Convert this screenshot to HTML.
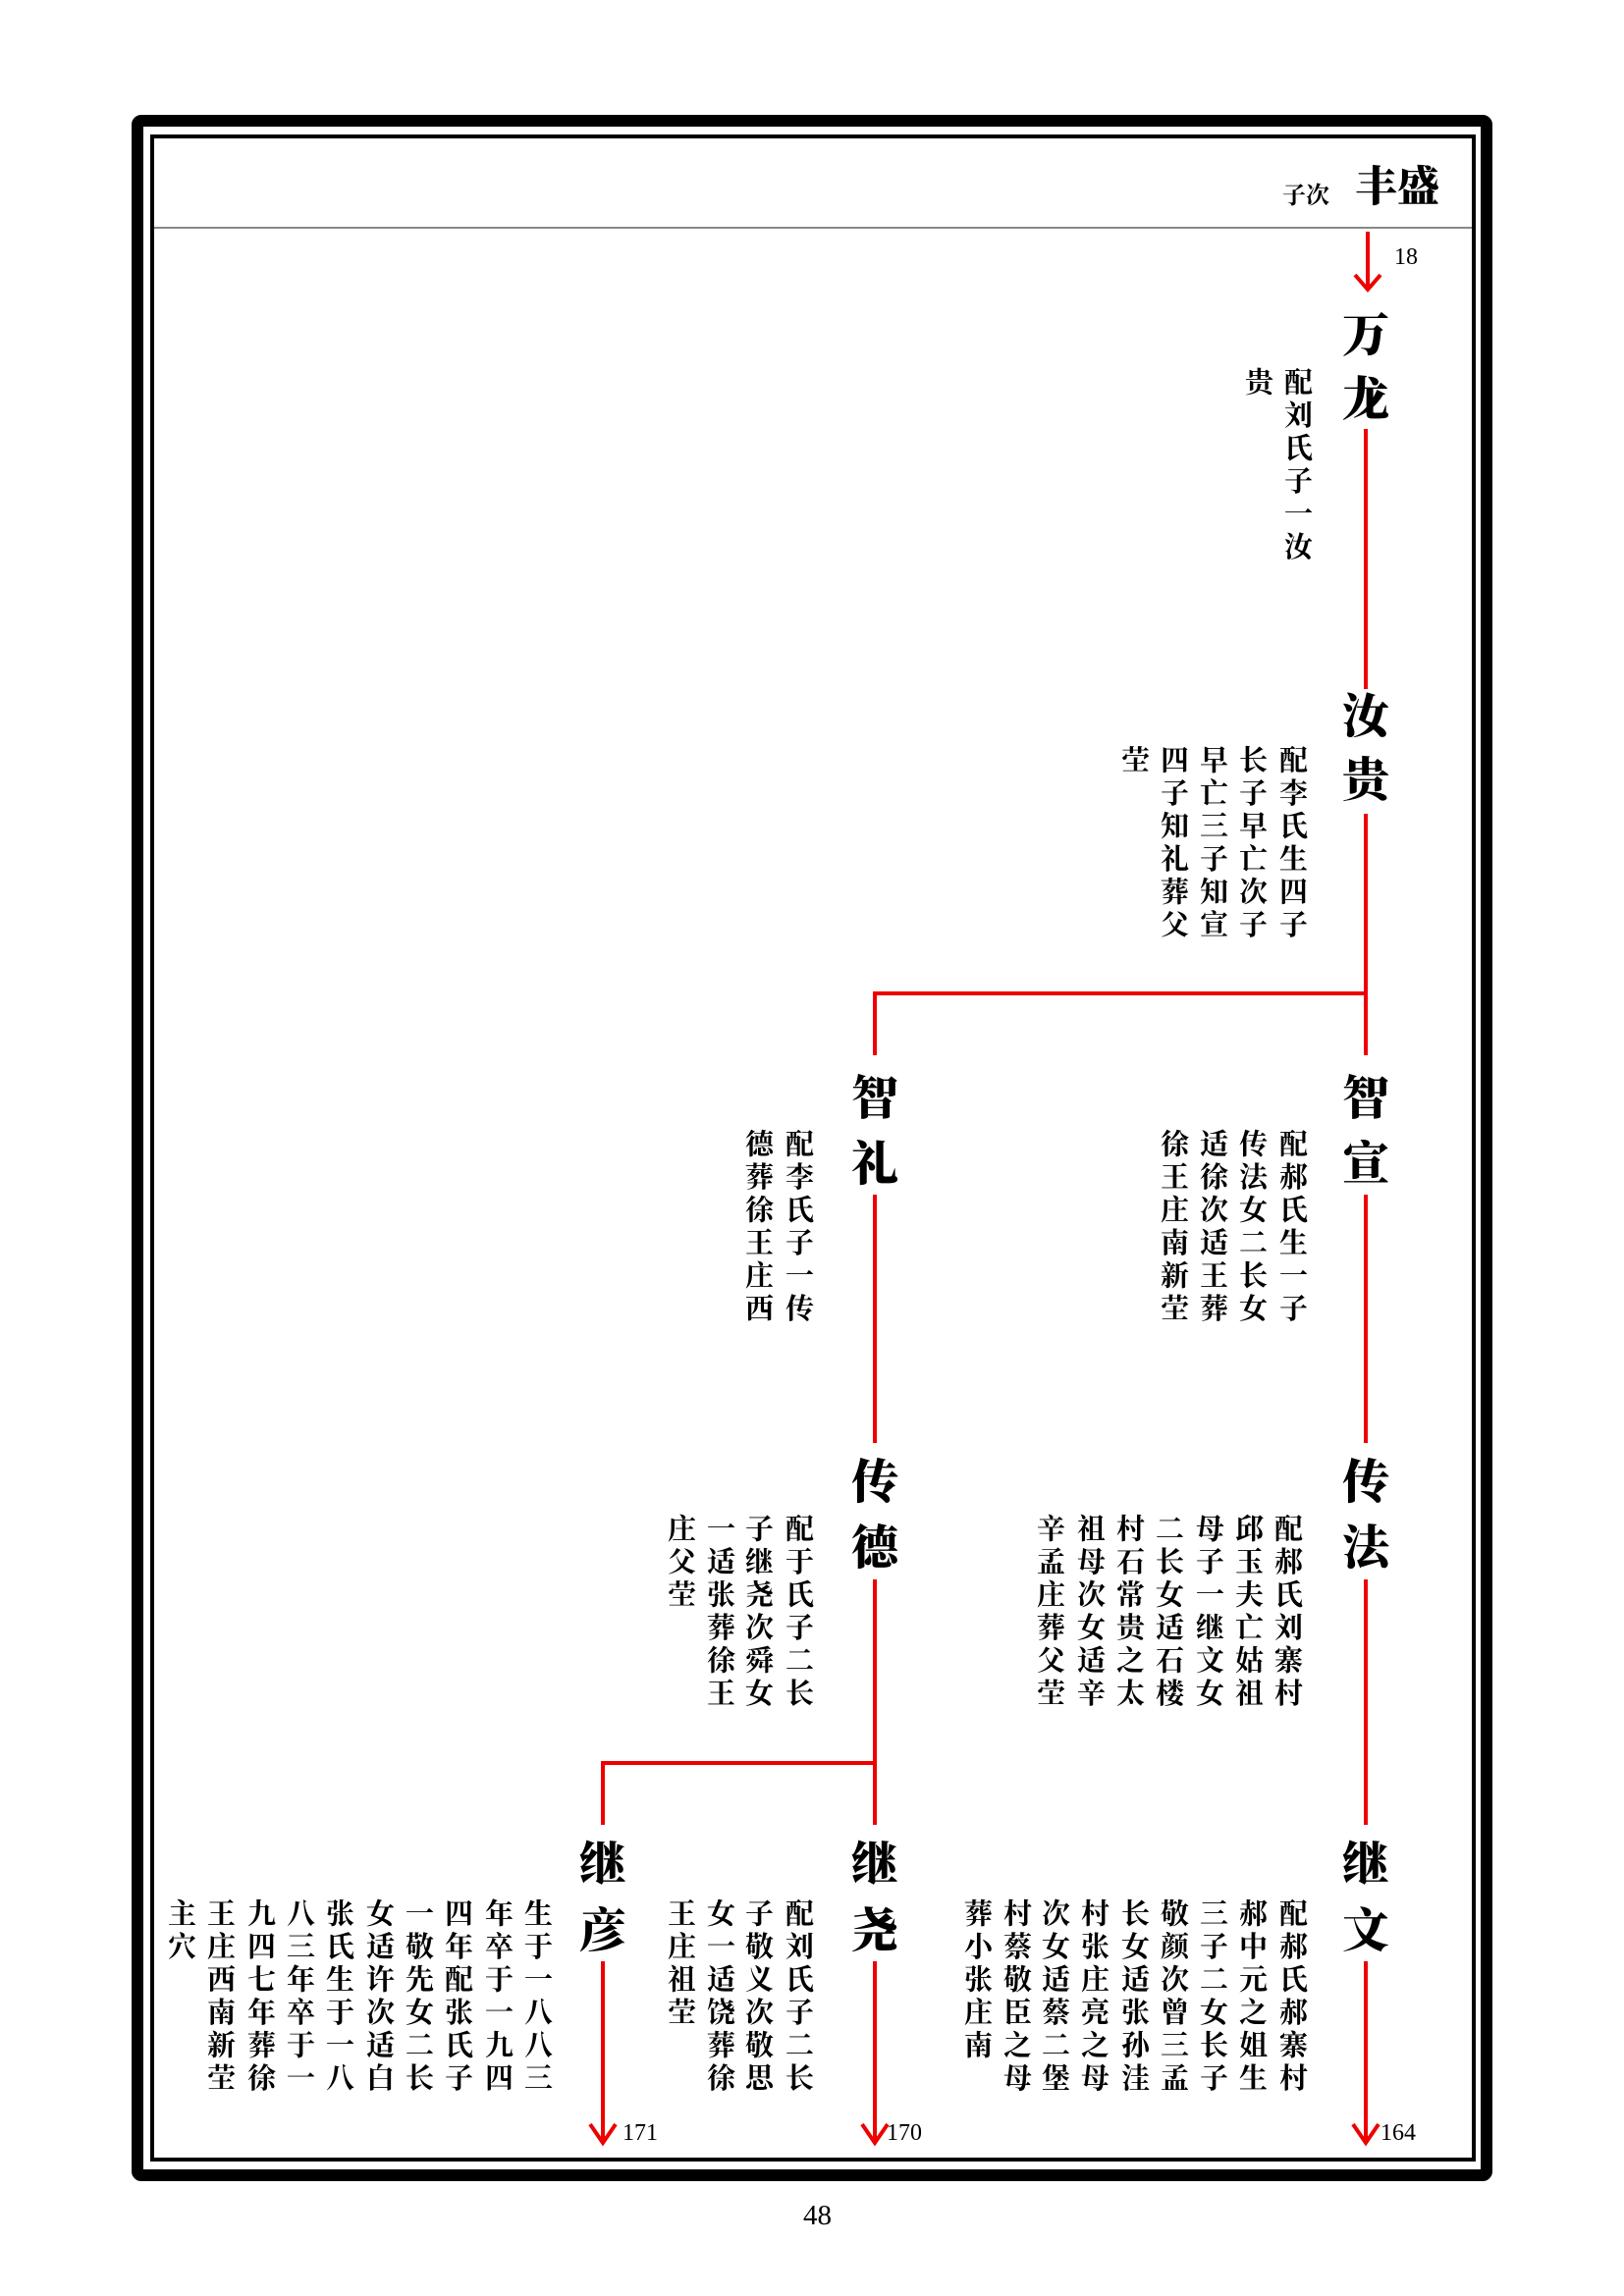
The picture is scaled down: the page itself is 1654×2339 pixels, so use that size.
<!DOCTYPE html>
<html><head><meta charset="utf-8"><style>
html,body{margin:0;padding:0;background:#fff}
#p{position:relative;width:1654px;height:2339px;overflow:hidden;background:#fff}
.c{position:absolute;writing-mode:vertical-rl;font-family:"Liberation Serif","Noto Serif CJK SC",serif;font-weight:700;font-size:29px;line-height:29px;width:29px;letter-spacing:4.5px;color:#000;white-space:nowrap}
.n{position:absolute;font-family:"Liberation Serif","Noto Serif CJK SC",serif;font-weight:900;font-size:48px;line-height:48px;width:48px;text-align:center;color:#000}
.num{position:absolute;font-family:"Liberation Serif",serif;font-size:24px;color:#000}
</style></head><body><div id="p">
<svg width="1654" height="2339" style="position:absolute;left:0;top:0">
<rect x="140" y="123" width="1374" height="2093" fill="none" stroke="#000" stroke-width="12" rx="4"/>
<rect x="155" y="139" width="1346" height="2061" fill="none" stroke="#000" stroke-width="4"/>
<line x1="157" y1="232" x2="1499" y2="232" stroke="#888" stroke-width="2"/>
<g stroke="#e00" stroke-width="4" fill="none">
<line x1="1393" y1="236" x2="1393" y2="294"/>
<polyline points="1380,280 1393,295 1406,280"/>
<line x1="1391" y1="437" x2="1391" y2="702"/>
<line x1="1391" y1="829" x2="1391" y2="1075"/>
<line x1="891" y1="1012" x2="1393" y2="1012"/>
<line x1="891" y1="1010" x2="891" y2="1075"/>
<line x1="1391" y1="1217" x2="1391" y2="1470"/>
<line x1="891" y1="1217" x2="891" y2="1470"/>
<line x1="1391" y1="1609" x2="1391" y2="1859"/>
<line x1="891" y1="1609" x2="891" y2="1859"/>
<line x1="614" y1="1796" x2="893" y2="1796"/>
<line x1="614" y1="1794" x2="614" y2="1859"/>
<line x1="1391" y1="1998" x2="1391" y2="2182"/>
<polyline points="1378,2164 1391,2183 1404,2164"/>
<line x1="891" y1="1998" x2="891" y2="2182"/>
<polyline points="878,2164 891,2183 904,2164"/>
<line x1="614" y1="1998" x2="614" y2="2182"/>
<polyline points="601,2164 614,2183 627,2164"/>
</g>
</svg>
<div style="position:absolute;left:1380px;top:168px;font-family:'Liberation Serif','Noto Serif CJK SC',serif;font-weight:900;font-size:43px;line-height:48px">丰盛</div>
<div style="position:absolute;left:1306px;top:186px;font-family:'Liberation Serif','Noto Serif CJK SC',serif;font-weight:700;font-size:24px;line-height:28px">子次</div>
<div class="num" style="left:1420px;top:249px">18</div>
<div class="num" style="left:1406px;top:2160px">164</div>
<div class="num" style="left:903px;top:2160px">170</div>
<div class="num" style="left:634px;top:2160px">171</div>
<div style="position:absolute;left:818px;top:2241px;font-family:'Liberation Serif',serif;font-size:29px">48</div>

<div class="n" style="left:1367px;top:319px">万</div><div class="n" style="left:1367px;top:384px">龙</div>
<div class="n" style="left:1367px;top:707px">汝</div><div class="n" style="left:1367px;top:772px">贵</div>
<div class="n" style="left:1367px;top:1096px">智</div><div class="n" style="left:1367px;top:1163px">宣</div>
<div class="n" style="left:867px;top:1096px">智</div><div class="n" style="left:867px;top:1163px">礼</div>
<div class="n" style="left:1367px;top:1487px">传</div><div class="n" style="left:1367px;top:1554px">法</div>
<div class="n" style="left:867px;top:1487px">传</div><div class="n" style="left:867px;top:1554px">德</div>
<div class="n" style="left:1367px;top:1876px">继</div><div class="n" style="left:1367px;top:1944px">文</div>
<div class="n" style="left:867px;top:1876px">继</div><div class="n" style="left:867px;top:1944px">尧</div>
<div class="n" style="left:590px;top:1876px">继</div><div class="n" style="left:590px;top:1944px">彦</div>

<div class="c" style="left:1305px;top:374px">配刘氏子一汝</div>
<div class="c" style="left:1265px;top:374px">贵</div>

<div class="c" style="left:1300px;top:759px">配李氏生四子</div>
<div class="c" style="left:1259px;top:759px">长子早亡次子</div>
<div class="c" style="left:1219px;top:759px">早亡三子知宣</div>
<div class="c" style="left:1179px;top:759px">四子知礼葬父</div>
<div class="c" style="left:1139px;top:759px">茔</div>

<div class="c" style="left:1300px;top:1150px">配郝氏生一子</div>
<div class="c" style="left:1259px;top:1150px">传法女二长女</div>
<div class="c" style="left:1219px;top:1150px">适徐次适王葬</div>
<div class="c" style="left:1179px;top:1150px">徐王庄南新茔</div>

<div class="c" style="left:797px;top:1150px">配李氏子一传</div>
<div class="c" style="left:756px;top:1150px">德葬徐王庄西</div>

<div class="c" style="left:1295px;top:1542px">配郝氏刘寨村</div>
<div class="c" style="left:1255px;top:1542px">邱玉夫亡姑祖</div>
<div class="c" style="left:1215px;top:1542px">母子一继文女</div>
<div class="c" style="left:1174px;top:1542px">二长女适石楼</div>
<div class="c" style="left:1134px;top:1542px">村石常贵之太</div>
<div class="c" style="left:1094px;top:1542px">祖母次女适辛</div>
<div class="c" style="left:1053px;top:1542px">辛孟庄葬父茔</div>

<div class="c" style="left:797px;top:1542px">配于氏子二长</div>
<div class="c" style="left:756px;top:1542px">子继尧次舜女</div>
<div class="c" style="left:717px;top:1542px">一适张葬徐王</div>
<div class="c" style="left:677px;top:1542px">庄父茔</div>

<div class="c" style="left:1300px;top:1934px">配郝氏郝寨村</div>
<div class="c" style="left:1259px;top:1934px">郝中元之姐生</div>
<div class="c" style="left:1219px;top:1934px">三子二女长子</div>
<div class="c" style="left:1179px;top:1934px">敬颜次曾三孟</div>
<div class="c" style="left:1139px;top:1934px">长女适张孙洼</div>
<div class="c" style="left:1098px;top:1934px">村张庄亮之母</div>
<div class="c" style="left:1058px;top:1934px">次女适蔡二堡</div>
<div class="c" style="left:1019px;top:1934px">村蔡敬臣之母</div>
<div class="c" style="left:979px;top:1934px">葬小张庄南</div>

<div class="c" style="left:797px;top:1934px">配刘氏子二长</div>
<div class="c" style="left:756px;top:1934px">子敬义次敬思</div>
<div class="c" style="left:717px;top:1934px">女一适饶葬徐</div>
<div class="c" style="left:677px;top:1934px">王庄祖茔</div>

<div class="c" style="left:531px;top:1934px">生于一八八三</div>
<div class="c" style="left:491px;top:1934px">年卒于一九四</div>
<div class="c" style="left:450px;top:1934px">四年配张氏子</div>
<div class="c" style="left:410px;top:1934px">一敬先女二长</div>
<div class="c" style="left:370px;top:1934px">女适许次适白</div>
<div class="c" style="left:329px;top:1934px">张氏生于一八</div>
<div class="c" style="left:289px;top:1934px">八三年卒于一</div>
<div class="c" style="left:249px;top:1934px">九四七年葬徐</div>
<div class="c" style="left:208px;top:1934px">王庄西南新茔</div>
<div class="c" style="left:168px;top:1934px">主穴</div>
</div></body></html>
